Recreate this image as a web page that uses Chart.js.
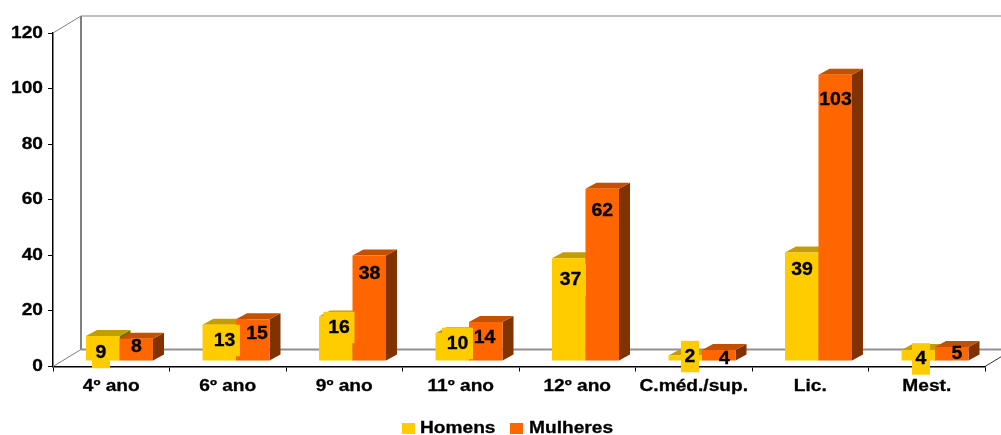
<!DOCTYPE html>
<html lang="pt">
<head>
<meta charset="utf-8">
<title>Homens e Mulheres por habilitações</title>
<style>
  html, body { margin: 0; padding: 0; background: #fff; }
  #wrap { position: relative; width: 1001px; height: 435px; overflow: hidden; }
  canvas { display: block; }
</style>
<script src="https://cdn.jsdelivr.net/npm/chart.js@4/dist/chart.umd.js"></script>
</head>
<body>
<div id="wrap"><canvas id="chart" width="1001" height="435"></canvas></div>
<script>
// Data
const categories = ['4º ano', '6º ano', '9º ano', '11º ano', '12º ano', 'C.méd./sup.', 'Lic.', 'Mest.'];
const homens = [9, 13, 16, 10, 37, 2, 39, 4];
const mulheres = [8, 15, 38, 14, 62, 4, 103, 5];
const seriesNames = ['Homens', 'Mulheres'];
const yTicks = [0, 20, 40, 60, 80, 100, 120];

// Label placement, relative to the top centre of each bar's front face
const homensLabelOffset = [[-1.75, 16.5], [5.25, 15.6], [3.25, 11], [5.25, 10.3], [1.75, 21.8], [4.75, 1.1], [0.25, 17.4], [2.75, 9.1]];
const mulheresLabelOffset = [[0.25, 7.7], [4.25, 14.7], [0.25, 18.6], [-1.25, 15.4], [0, 22.3], [5.75, 8.6], [0.25, 24.7], [5.25, 6]];

// Colours: front, top and side faces of each series
const faces = [
  { front: '#FFCC00', top: '#C49D00', side: '#806600' },
  { front: '#FF6600', top: '#C45000', side: '#803300' }
];

// Geometry of the pseudo-3D box
const FONT = '"Liberation Sans", Arial, sans-serif';
const TEXT_SIZE = 16.5;
const TEXT_STRETCH = 1.16;
const VALUE_SIZE = 18;
const VALUE_STRETCH = 1.08;
const TEXT_WEIGHT_STROKE = 0.3;
const WALL = { dx: 28, dy: -17 };
const FRONT_SHIFT = { x: 8.25, y: -5.5 };
const DEPTH = { dx: 11, dy: -6 };
const LABEL_BOX = { h: 31.5, w1: 18, w2: 31 };

// Draws the library's own tick label items with a horizontal stretch
const stretched = Base => class extends Base {
  drawLabels(chartArea) {
    const ctx = this.ctx;
    for (const item of this.getLabelItems(chartArea)) {
      const o = item.options;
      ctx.save();
      ctx.translate(o.translation[0], o.translation[1]);
      ctx.scale(TEXT_STRETCH, 1);
      ctx.font = item.font.string;
      ctx.fillStyle = o.color;
      ctx.strokeStyle = o.color;
      ctx.lineWidth = TEXT_WEIGHT_STROKE;
      ctx.textAlign = o.textAlign;
      ctx.textBaseline = o.textBaseline;
      ctx.fillText(item.label, 0, item.textOffset);
      ctx.strokeText(item.label, 0, item.textOffset);
      ctx.restore();
    }
  }
};
class WideCategoryScale extends stretched(Chart.CategoryScale) {}
WideCategoryScale.id = 'wideCategory';
WideCategoryScale.defaults = Chart.CategoryScale.defaults;
class WideLinearScale extends stretched(Chart.LinearScale) {}
WideLinearScale.id = 'wideLinear';
WideLinearScale.defaults = Chart.LinearScale.defaults;
Chart.register(WideCategoryScale, WideLinearScale);

function strokeLine(ctx, x1, y1, x2, y2, color, width) {
  ctx.beginPath();
  ctx.moveTo(x1, y1);
  ctx.lineTo(x2, y2);
  ctx.strokeStyle = color;
  ctx.lineWidth = width;
  ctx.stroke();
}

function stretchedText(ctx, text, x, y, align, baseline, size, stretch) {
  ctx.save();
  ctx.translate(x, y);
  ctx.scale(stretch, 1);
  ctx.font = 'bold ' + size + 'px ' + FONT;
  ctx.fillStyle = '#000';
  ctx.strokeStyle = '#000';
  ctx.lineWidth = TEXT_WEIGHT_STROKE;
  ctx.textAlign = align;
  ctx.textBaseline = baseline;
  ctx.fillText(text, 0, 0);
  ctx.strokeText(text, 0, 0);
  ctx.restore();
}

// Back walls and floor of the box
const wallsPlugin = {
  id: 'walls',
  beforeDatasetsDraw(chart) {
    const { ctx, chartArea: a, width } = chart;
    const backX = a.left + WALL.dx;
    const backTop = a.top + WALL.dy;
    const backBottom = a.bottom + WALL.dy;
    ctx.save();
    strokeLine(ctx, backX, backTop, width, backTop, '#808080', 1);
    strokeLine(ctx, backX, backTop, backX, backBottom, '#808080', 2);
    strokeLine(ctx, backX, backBottom, width, backBottom, '#909090', 2);
    strokeLine(ctx, a.left, a.top, backX, backTop, '#808080', 1);
    strokeLine(ctx, a.left, a.bottom, backX, backBottom, '#808080', 1);
    strokeLine(ctx, a.right, a.bottom, a.right + WALL.dx, a.bottom + WALL.dy, '#303030', 1);
    ctx.restore();
  }
};

// Bars as boxes: native fronts plus top and side faces, left series first
const boxBarsPlugin = {
  id: 'boxBars',
  beforeDatasetDraw() { return false; },
  afterDatasetsDraw(chart) {
    const { ctx } = chart;
    chart.data.datasets.forEach((ds, i) => {
      const meta = chart.getDatasetMeta(i);
      ctx.save();
      ctx.translate(FRONT_SHIFT.x, FRONT_SHIFT.y);
      meta.data.forEach(bar => {
        const { x, y, base, width } = bar.getProps(['x', 'y', 'base', 'width']);
        const l = x - width / 2, r = x + width / 2;
        ctx.fillStyle = faces[i].side;
        ctx.beginPath();
        ctx.moveTo(r, y);
        ctx.lineTo(r + DEPTH.dx, y + DEPTH.dy);
        ctx.lineTo(r + DEPTH.dx, base + DEPTH.dy);
        ctx.lineTo(r, base);
        ctx.closePath();
        ctx.fill();
        ctx.fillStyle = faces[i].top;
        ctx.beginPath();
        ctx.moveTo(l, y);
        ctx.lineTo(l + DEPTH.dx, y + DEPTH.dy);
        ctx.lineTo(r + DEPTH.dx, y + DEPTH.dy);
        ctx.lineTo(r, y);
        ctx.closePath();
        ctx.fill();
      });
      meta.controller.draw();
      ctx.restore();
    });
    drawValueLabels(chart);
    drawLegend(chart);
  }
};

function drawValueLabels(chart) {
  const { ctx } = chart;
  const offsets = [homensLabelOffset, mulheresLabelOffset];
  chart.data.datasets.forEach((ds, i) => {
    chart.getDatasetMeta(i).data.forEach((bar, j) => {
      const text = String(ds.data[j]);
      const cx = bar.x + FRONT_SHIFT.x + offsets[i][j][0];
      const cy = bar.y + FRONT_SHIFT.y + offsets[i][j][1];
      // Only the first series carries a filled label box
      if (i === 0) {
        const w = text.length > 1 ? LABEL_BOX.w2 : LABEL_BOX.w1;
        ctx.fillStyle = faces[0].front;
        ctx.fillRect(cx - w / 2, cy - LABEL_BOX.h / 2, w, LABEL_BOX.h);
      }
      stretchedText(ctx, text, cx, cy + 0.5, 'center', 'middle', VALUE_SIZE, VALUE_STRETCH);
    });
  });
}

function drawLegend(chart) {
  const { ctx } = chart;
  const entries = [{ box: 402, text: 420 }, { box: 510, text: 529 }];
  seriesNames.forEach((name, i) => {
    ctx.fillStyle = faces[i].front;
    ctx.fillRect(entries[i].box, 423, 13, 11);
    stretchedText(ctx, name, entries[i].text, 428, 'left', 'middle', TEXT_SIZE, TEXT_STRETCH);
  });
}

new Chart(document.getElementById('chart'), {
  type: 'bar',
  data: {
    labels: categories,
    datasets: [
      { label: seriesNames[0], data: homens, backgroundColor: faces[0].front, borderWidth: 0 },
      { label: seriesNames[1], data: mulheres, backgroundColor: faces[1].front, borderWidth: 0 }
    ]
  },
  plugins: [wallsPlugin, boxBarsPlugin],
  options: {
    responsive: false,
    animation: false,
    layout: { padding: { top: 33, right: 16, left: 0, bottom: 0 } },
    datasets: { bar: { categoryPercentage: 0.575, barPercentage: 1 } },
    plugins: { legend: { display: false }, title: { display: false }, tooltip: { enabled: false } },
    scales: {
      x: {
        type: 'wideCategory',
        afterFit: s => { s.height = 68.5; },
        grid: { drawOnChartArea: false, drawTicks: true, tickLength: 5, color: '#000' },
        border: { color: '#000', width: 1.5 },
        ticks: { color: '#000', padding: 5, maxRotation: 0, autoSkip: false, font: { family: FONT, size: TEXT_SIZE, weight: 'bold' } }
      },
      y: {
        type: 'wideLinear',
        min: yTicks[0],
        max: yTicks[yTicks.length - 1],
        afterFit: s => { s.width = 53; },
        afterBuildTicks: s => { s.ticks = yTicks.map(value => ({ value })); },
        grid: { drawOnChartArea: false, drawTicks: true, tickLength: 5, color: '#000' },
        border: { color: '#000', width: 1.5 },
        ticks: { color: '#000', padding: 5, font: { family: FONT, size: TEXT_SIZE, weight: 'bold' } }
      }
    }
  }
});
</script>
</body>
</html>
